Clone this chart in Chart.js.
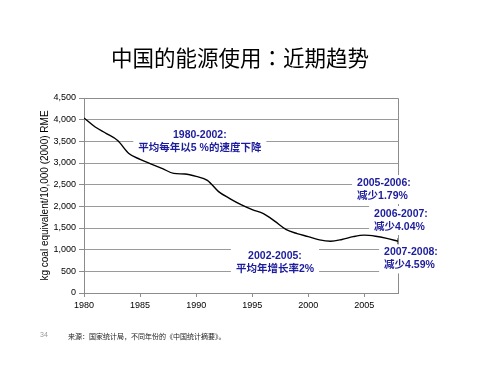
<!DOCTYPE html>
<html><head><meta charset="utf-8">
<script src="https://cdn.jsdelivr.net/npm/chart.js@4/dist/chart.umd.min.js"></script>
<style>
html,body{margin:0;padding:0;background:#fff;}
#wrap{position:relative;width:480px;height:371px;}
canvas{position:absolute;left:0;top:0;}
.foot{position:absolute;font-family:"Noto Sans CJK SC","Liberation Sans",sans-serif;white-space:nowrap;line-height:1;}
#title{position:absolute;left:0;width:480px;top:46px;text-align:center;font-family:"Noto Sans CJK SC",sans-serif;font-size:21.5px;line-height:1;color:#000;white-space:nowrap;}
#title .c{font-family:"Noto Sans CJK TC",sans-serif;}
</style></head>
<body><div id="wrap"><canvas id="c" width="480" height="371"></canvas>
<div id="title"></div>
<div class="foot" style="left:40px;top:331px;font-size:7px;color:#999;font-family:'Liberation Sans',sans-serif;">34</div>
<div class="foot" style="left:68px;top:333px;font-size:7px;color:#222;">来源：国家统计局，不同年份的《中国统计摘要》。</div>
</div>
<script>
const years = [1980,1981,1982,1983,1984,1985,1986,1987,1988,1989,1990,1991,1992,1993,1994,1995,1996,1997,1998,1999,2000,2001,2002,2003,2004,2005,2006,2007,2008];
const energyPerGDP = [4040,3830,3680,3520,3220,3085,2975,2870,2760,2745,2690,2600,2340,2180,2040,1925,1830,1660,1470,1370,1300,1225,1195,1235,1300,1335,1310,1260,1195];
const yTicks = [0,500,1000,1500,2000,2500,3000,3500,4000,4500];
const xTicks = [1980,1985,1990,1995,2000,2005];
const titleParts = ['中国的能源使用','：','近期趋势'];
const yTitle = 'kg coal equivalent/10,000 (2000) RME';
const notes = [
  {year:1990.33, value:3653, align:'center', lines:['1980-2002:','平均每年以5 %的速度下降']},
  {year:2004.35, value:2538, align:'left', lines:['2005-2006:','减少1.79%']},
  {year:2005.87, value:1823, align:'left', lines:['2006-2007:','减少4.04%']},
  {year:2006.76, value:937, align:'left', lines:['2007-2008:','减少4.59%']},
  {year:1997.03, value:845, align:'center', lines:['2002-2005:','平均年增长率2%']}
];

const t = document.getElementById('title');
t.appendChild(document.createTextNode(titleParts[0]));
const sp = document.createElement('span'); sp.className='c'; sp.textContent = titleParts[1]; t.appendChild(sp);
t.appendChild(document.createTextNode(titleParts[2]));

const NOTE_FONT = 'bold 10.5px "Liberation Sans","Noto Sans CJK SC",sans-serif';
const NOTE_COLOR = '#1c1c9c';
const LINE_GAP = 13;

function noteBoxes(chart){
  const ctx = chart.ctx, xs = chart.scales.x, ys = chart.scales.y;
  ctx.save(); ctx.font = NOTE_FONT;
  const out = notes.map(n=>{
    const px = xs.getPixelForValue(n.year), py = ys.getPixelForValue(n.value);
    const w = Math.max(...n.lines.map(l=>ctx.measureText(l).width));
    const left = n.align==='center' ? px - w/2 : px;
    return {n, px, py, w, left};
  });
  ctx.restore();
  return out;
}

const framePlugin = {
  id:'frame',
  beforeDatasetsDraw(chart){
    const {ctx, chartArea:a} = chart;
    ctx.save();
    ctx.strokeStyle = '#8c8c8c'; ctx.lineWidth = 1;
    ctx.beginPath();
    ctx.moveTo(a.left, a.top+0.5); ctx.lineTo(a.right+0.5, a.top+0.5); ctx.lineTo(a.right+0.5, a.bottom);
    ctx.stroke();
    ctx.fillStyle = '#fff';
    noteBoxes(chart).forEach(b=>{
      ctx.fillRect(b.left-5, b.py-8, b.w+10, LINE_GAP*(b.n.lines.length-1)+16);
    });
    ctx.restore();
  },
  afterDatasetsDraw(chart){
    const ctx = chart.ctx;
    ctx.save();
    ctx.font = NOTE_FONT; ctx.fillStyle = NOTE_COLOR; ctx.textBaseline = 'middle';
    noteBoxes(chart).forEach(b=>{
      ctx.textAlign = b.n.align;
      b.n.lines.forEach((l,i)=>ctx.fillText(l, b.px, b.py + i*LINE_GAP));
    });
    ctx.restore();
  }
};

new Chart(document.getElementById('c'), {
  type:'line',
  data:{datasets:[{
    data: years.map((y,i)=>({x:y, y:energyPerGDP[i]})),
    borderColor:'#000', borderWidth:1.4,
    cubicInterpolationMode:'monotone',
    pointRadius: years.map((y,i)=> i===years.length-1 ? 3 : 0),
    pointStyle:'line', rotation:90,
    pointBorderColor:'#000', pointBorderWidth:1,
    fill:false
  }]},
  options:{
    responsive:false, animation:false, devicePixelRatio:1,
    layout:{padding:{left:37, right:82, top:98, bottom:49}},
    plugins:{ legend:{display:false}, tooltip:{enabled:false}, title:{display:false} },
    scales:{
      x:{type:'linear', min:1980, max:2008,
        afterBuildTicks(s){ s.ticks = xTicks.map(v=>({value:v})); },
        afterFit(s){ s.height = 29; },
        ticks:{color:'#000', font:{family:'"Liberation Sans",sans-serif', size:9}, padding:3, maxRotation:0, callback:v=>String(v)},
        grid:{drawOnChartArea:false, drawTicks:true, tickLength:4, tickColor:'#8c8c8c'},
        border:{display:true, color:'#8c8c8c', width:1}
      },
      y:{min:0, max:4500,
        afterBuildTicks(s){ s.ticks = yTicks.map(v=>({value:v})); },
        afterFit(s){ s.width = 47; },
        ticks:{color:'#000', font:{family:'"Liberation Sans",sans-serif', size:9}, padding:3, callback:v=>v.toLocaleString('en-US')},
        grid:{color:'#9a9a9a', lineWidth:1, borderDash:[1,2], tickLength:5, tickColor:'#8c8c8c', tickBorderDash:[]},
        border:{display:true, color:'#8c8c8c', width:1},
        title:{display:true, text:yTitle, color:'#000', font:{family:'"Liberation Sans",sans-serif', size:10}, padding:{top:2,bottom:0}}
      }
    }
  },
  plugins:[framePlugin]
});
</script>
</body></html>
